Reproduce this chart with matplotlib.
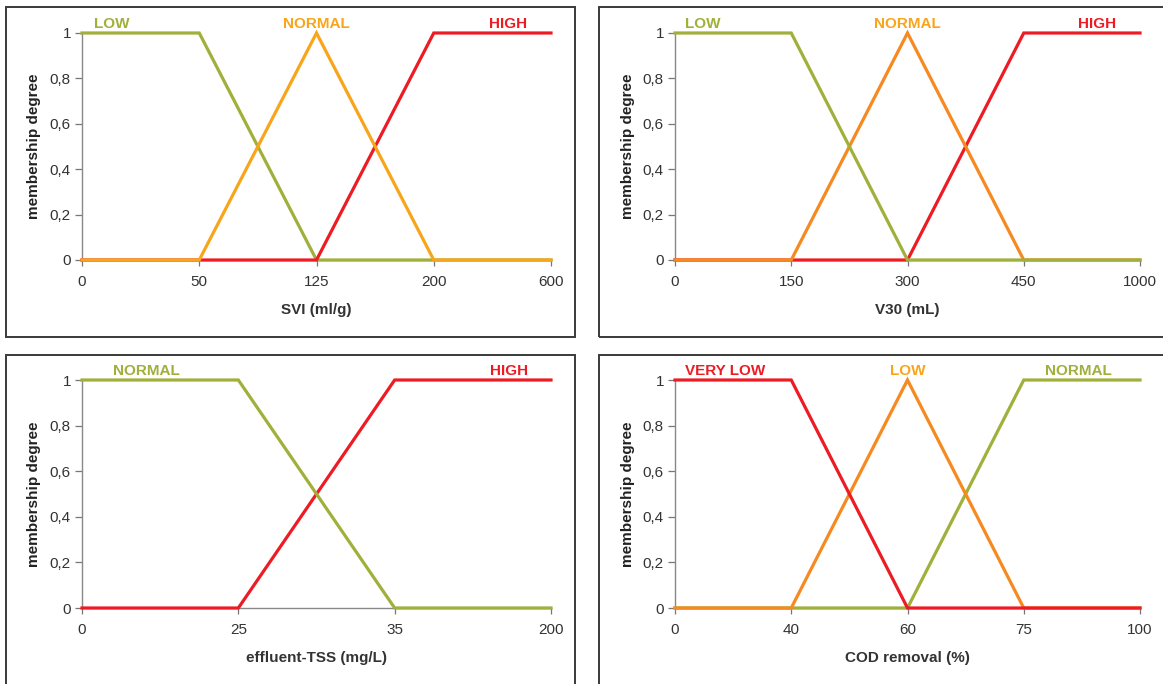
import matplotlib
matplotlib.use("Agg")
import matplotlib.pyplot as plt
from matplotlib.patches import Rectangle

plt.rcParams["font.family"] = ["Liberation Sans", "DejaVu Sans"]

GREEN = "#A0B03A"
ORANGE_Y = "#F9A51B"
ORANGE = "#F6891F"
RED = "#ED1C24"

# --- SVI ---
svi_ticks = ["0", "50", "125", "200", "600"]
svi_low = [1, 1, 0, 0, 0]
svi_normal = [0, 0, 1, 0, 0]
svi_high = [0, 0, 0, 1, 1]

# --- V30 ---
v30_ticks = ["0", "150", "300", "450", "1000"]
v30_low = [1, 1, 0, 0, 0]
v30_normal = [0, 0, 1, 0, 0]
v30_high = [0, 0, 0, 1, 1]

# --- effluent TSS ---
tss_ticks = ["0", "25", "35", "200"]
tss_normal = [1, 1, 0, 0]
tss_high = [0, 0, 1, 1]

# --- COD removal ---
cod_ticks = ["0", "40", "60", "75", "100"]
cod_very_low = [1, 1, 0, 0, 0]
cod_low = [0, 0, 1, 0, 0]
cod_normal = [0, 0, 0, 1, 1]

y_ticks = [0, 0.2, 0.4, 0.6, 0.8, 1]
y_labels = ["0", "0,2", "0,4", "0,6", "0,8", "1"]

W, H = 1163, 684
fig = plt.figure(figsize=(W / 100, H / 100), dpi=100)

TICK_FS = 11
LABEL_FS = 11
CAT_FS = 11


def px_rect(x0, y0, x1, y1):
    return [x0 / W, 1 - y1 / H, (x1 - x0) / W, (y1 - y0) / H]


# outer frames around each panel
for (x0, y0, x1, y1) in [(6, 7, 575, 337), (599, 7, 1180, 337),
                         (6, 355, 575, 700), (599, 355, 1180, 700)]:
    fig.patches.append(Rectangle((x0 / W, 1 - y1 / H), (x1 - x0) / W, (y1 - y0) / H,
                                 transform=fig.transFigure, fill=False,
                                 edgecolor="#3a3a3a", linewidth=1.4))


def panel(rect, ticks, series, xlabel):
    ax = fig.add_axes(px_rect(*rect))
    n = len(ticks)
    xs = list(range(n))
    for vals, color, lbl, lx, z, lc in series:
        ax.plot(xs, vals, color=color, lw=2.3, clip_on=False, zorder=z,
                solid_joinstyle="miter")
    ax.set_xlim(0, n - 1)
    ax.set_ylim(0, 1)
    ax.set_xticks(xs)
    ax.set_xticklabels(ticks)
    ax.set_yticks(y_ticks)
    ax.set_yticklabels(y_labels)
    for s in ["top", "right"]:
        ax.spines[s].set_visible(False)
    for s in ["left", "bottom"]:
        ax.spines[s].set_color("#888888")
        ax.spines[s].set_linewidth(1.0)
    ax.tick_params(axis="y", direction="out", length=5, width=0.9, color="#777777",
                   labelsize=TICK_FS, labelcolor="#333333", pad=3)
    ax.tick_params(axis="x", direction="out", length=4, width=0.9, color="#777777",
                   labelsize=TICK_FS, labelcolor="#333333", pad=7)
    ax.set_ylabel("membership degree", fontsize=LABEL_FS, fontweight="bold",
                  color="#222222", va="center")
    ax.yaxis.set_label_coords(-0.102, 0.5)
    ax.set_xlabel(xlabel, fontsize=LABEL_FS, fontweight="bold", color="#333333",
                  va="center")
    ax.xaxis.set_label_coords(0.5, -0.22)
    for vals, color, lbl, lx, z, lc in series:
        ax.text(lx, 1.04, lbl, color=lc, ha="center", va="center",
                fontsize=CAT_FS, fontweight="bold", transform=ax.transData)
    return ax


panel((82, 33, 551, 260), svi_ticks,
      [(svi_low, GREEN, "LOW", 0.25, 3, GREEN),
       (svi_high, RED, "HIGH", 3.63, 4, RED),
       (svi_normal, ORANGE_Y, "NORMAL", 2.0, 5, ORANGE_Y)],
      "SVI (ml/g)")

panel((675, 33, 1140, 260), v30_ticks,
      [(v30_high, RED, "HIGH", 3.63, 3, RED),
       (v30_normal, ORANGE, "NORMAL", 2.0, 4, ORANGE_Y),
       (v30_low, GREEN, "LOW", 0.24, 5, GREEN)],
      "V30 (mL)")

panel((82, 380, 551, 608), tss_ticks,
      [(tss_high, RED, "HIGH", 2.73, 3, RED),
       (tss_normal, GREEN, "NORMAL", 0.41, 4, GREEN)],
      "effluent-TSS (mg/L)")

panel((675, 380, 1140, 608), cod_ticks,
      [(cod_normal, GREEN, "NORMAL", 3.47, 3, GREEN),
       (cod_low, ORANGE, "LOW", 2.0, 4, ORANGE_Y),
       (cod_very_low, RED, "VERY LOW", 0.43, 5, RED)],
      "COD removal (%)")

fig.savefig("out.png", dpi=100, facecolor="white")
